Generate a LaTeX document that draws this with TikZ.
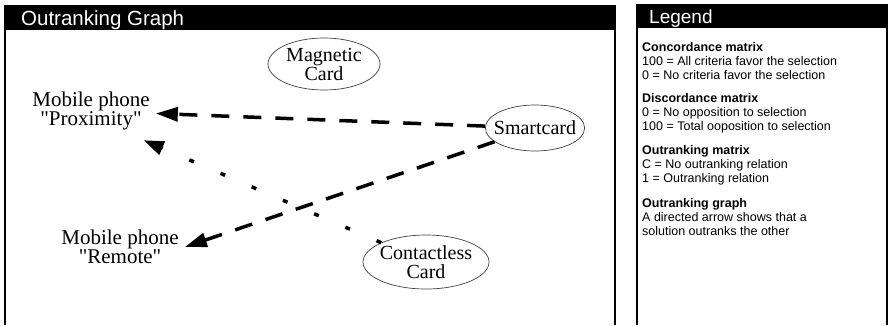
\documentclass[tikz,border=0pt]{standalone}
\usepackage{fontspec}
\setmainfont{Liberation Serif}[Ligatures=TeXOff]
\setsansfont{Liberation Sans}
\usetikzlibrary{shapes.geometric,arrows.meta}
\begin{document}
\begin{tikzpicture}[x=1pt,y=-1pt,
  panel/.style={draw=black,line width=1.2pt},
  hdrtext/.style={anchor=base west,text=white,font=\sffamily\fontsize{19}{19}\selectfont,inner sep=0pt},
  alt/.style={ellipse,draw=black!75,line width=0.7pt,inner sep=-6pt,align=center,font=\fontsize{20}{19}\selectfont},
  txtnode/.style={align=center,font=\fontsize{21}{19}\selectfont,inner sep=6pt},
  dasharrow/.style={line width=3.5pt,dash pattern=on 18pt off 14pt,-{Triangle[length=22pt,width=14pt]}},
  dotarrow/.style={line width=3.5pt,dash pattern=on 5pt off 29pt,-{Triangle[length=20pt,width=14pt]}},
  lgd/.style={anchor=base west,font=\sffamily\fontsize{12.5}{14}\selectfont,inner sep=0pt},
  lgdh/.style={anchor=base west,font=\sffamily\bfseries\fontsize{12.5}{14}\selectfont,inner sep=0pt}
]
\useasboundingbox (0,0) rectangle (890,325);
\fill[white] (0,0) rectangle (890,325);

% left panel
\draw[panel] (5,30) -- (5,325);
\draw[panel] (615,30) -- (615,325);
\fill (4,5) rectangle (616,30);
\node[hdrtext,font=\sffamily\fontsize{20.5}{20}\selectfont] (h1) at (21,25) {Outranking Graph};

% legend panel
\draw[panel] (637,28) -- (637,325);
\draw[panel] (887,28) -- (887,325);
\fill (636,4) rectangle (888,28);
\node[hdrtext] (h2) at (649,23) {Legend};

\node[lgdh] (l1) at (642,51.5) {Concordance matrix};
\node[lgd]  (l2) at (642,65.5) {100 = All criteria favor the selection};
\node[lgd]  (l3) at (642,79.5) {0 = No criteria favor the selection};
\node[lgdh] (l4) at (642,102.5) {Discordance matrix};
\node[lgd]  (l5) at (642,116.5) {0 = No opposition to selection};
\node[lgd]  (l6) at (642,130.5) {100 = Total ooposition to selection};
\node[lgdh] (l7) at (642,154.5) {Outranking matrix};
\node[lgd]  (l8) at (642,168.5) {C = No outranking relation};
\node[lgd]  (l9) at (642,182.5) {1 = Outranking relation};
\node[lgdh] (l10) at (642,207.5) {Outranking graph};
\node[lgd]  (l11) at (642,221.5) {A directed arrow shows that a};
\node[lgd]  (l12) at (642,235.5) {solution outranks the other};

% graph
\node[alt,minimum width=112pt,minimum height=52pt] (mag) at (324,64) {Magnetic\\Card};
\node[txtnode] (prox) at (91,111) {Mobile phone\\"Proximity"};
\node[alt,minimum width=96pt,minimum height=46pt] (smart) at (535,128) {Smartcard};
\node[txtnode] (remote) at (120,247) {Mobile phone\\"Remote"};
\node[alt,minimum width=126pt,minimum height=54pt] (contact) at (426,262) {Contactless\\Card};

\draw[dasharrow] (smart) -- (prox);
\draw[dasharrow] (smart) -- (remote.east);
\draw[dotarrow] (contact) -- ([shift={(-12pt,-4pt)}]prox.south east);
\end{tikzpicture}
\end{document}
